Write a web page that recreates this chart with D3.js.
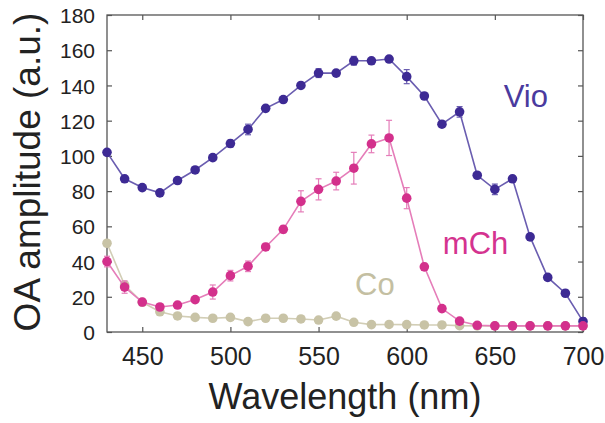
<!DOCTYPE html>
<html><head><meta charset="utf-8">
<script src="https://cdn.jsdelivr.net/npm/d3@7"></script>
<style>
body{margin:0;background:#fff;}
svg{display:block;font-family:"Liberation Sans",Arial,Helvetica,sans-serif;}
</style></head>
<body>
<svg id="chart" width="605" height="423"></svg>
<script>
const wavelengths = d3.range(430, 701, 10);
const vio = [102,87,82,79,86,92,99,107,115,127,132,140,147,147,154,154,155,145,134,118,125,89,81,87,54,31,22,6];
const vioErr = [0,1.5,1.5,1.5,1.5,1.5,1.5,2,3,1.5,1.5,1.5,2.5,1.5,2.5,1.5,1.5,4,1.5,1.5,3,1.5,3,1.5,1.5,1.5,1.5,2];
const mch = [40,25.5,17,14.2,15.3,18.4,22.7,32,37.3,48.3,58.3,74.2,81,85.7,93,106.8,110.2,76,37,13.3,6.2,3.8,3.5,3.5,3.5,3.5,3.5,3.5];
const mchErr = [3,3.5,2,1.5,1.5,1.5,4,3,3,2,2,6,6,5,9,5,10,6,2,1.5,1,0.5,0.5,0.5,0.5,0.5,0.5,1];
const co = [50.4,26.7,16.9,11.5,9.1,8.3,7.8,8.3,5.9,7.8,7.8,7.4,6.8,9,5.5,4.2,4.3,4.2,4,4,3.6,3.5,3.5,3.5,3.5,3.5,3.5,3.5];
const coErr = co.map(() => 0);
const xTicks = [450,500,550,600,650,700];
const yTicks = [0,20,40,60,80,100,120,140,160,180];
const seriesNames = ["Vio","mCh","Co"];
const labelPos = [[655,128],[620.5,44.3],[570.7,21]];

const series = [
  {name:"Co", values:co, err:coErr, line:"#d2ceb6", dot:"#c8c3a6"},
  {name:"Vio", values:vio, err:vioErr, line:"#6a5db0", dot:"#3d2a94"},
  {name:"mCh", values:mch, err:mchErr, line:"#e57db9", dot:"#d3308c"}
];

const svg = d3.select("#chart");
const x = d3.scaleLinear().domain([430,700]).range([107,583]);
const y = d3.scaleLinear().domain([0,180]).range([332,15]);

svg.append("rect").attr("x",107).attr("y",15).attr("width",476).attr("height",317)
  .attr("fill","none").attr("stroke","#555").attr("stroke-width",1.3);

const tickLen = 5;
const ax = svg.append("g").attr("transform","translate(0,332)")
  .call(d3.axisBottom(x).tickValues(xTicks).tickSize(-tickLen).tickPadding(15).tickFormat(d3.format("d")));
const axT = svg.append("g").attr("transform","translate(0,15)")
  .call(d3.axisTop(x).tickValues(xTicks).tickSize(-tickLen).tickFormat(""));
const ay = svg.append("g").attr("transform","translate(107,0)")
  .call(d3.axisLeft(y).tickValues(yTicks).tickSize(-tickLen).tickPadding(12));
const ayR = svg.append("g").attr("transform","translate(583,0)")
  .call(d3.axisRight(y).tickValues(yTicks).tickSize(-tickLen).tickFormat(""));
[ax,axT,ay,ayR].forEach(g=>{
  g.select(".domain").remove();
  g.selectAll(".tick line").attr("stroke","#555").attr("stroke-width",1.2);
  g.selectAll("text").attr("fill","#222").style("font-family",'"Liberation Sans",Arial,sans-serif');
});
ax.selectAll("text").attr("font-size",25);
ay.selectAll("text").attr("font-size",21).attr("dy","0.36em");

const line = d3.line().x((d,i)=>x(wavelengths[i])).y(d=>y(d));
series.forEach(s=>{
  const g = svg.append("g");
  g.append("path").datum(s.values).attr("d",line).attr("fill","none")
    .attr("stroke",s.line).attr("stroke-width",1.6);
  s.values.forEach((v,i)=>{
    const e = s.err[i];
    if(e>0.8){
      const cx = x(wavelengths[i]);
      g.append("line").attr("x1",cx).attr("x2",cx).attr("y1",y(v-e)).attr("y2",y(v+e)).attr("stroke",s.line).attr("stroke-width",1.2);
      g.append("line").attr("x1",cx-3).attr("x2",cx+3).attr("y1",y(v-e)).attr("y2",y(v-e)).attr("stroke",s.line).attr("stroke-width",1.2);
      g.append("line").attr("x1",cx-3).attr("x2",cx+3).attr("y1",y(v+e)).attr("y2",y(v+e)).attr("stroke",s.line).attr("stroke-width",1.2);
    }
  });
  g.selectAll("circle").data(s.values).join("circle")
    .attr("cx",(d,i)=>x(wavelengths[i])).attr("cy",d=>y(d)).attr("r",4.8)
    .attr("fill",s.dot);
});

const labelColors = {"Vio":"#4a3a9e","mCh":"#d4338f","Co":"#c4bfa2"};
seriesNames.forEach((n,i)=>{
  svg.append("text").attr("x",x(labelPos[i][0])).attr("y",y(labelPos[i][1]))
    .attr("font-size",31).attr("fill",labelColors[n]).text(n);
});

svg.append("text").attr("x",345).attr("y",409).attr("text-anchor","middle")
  .attr("font-size",36).attr("fill","#222").text("Wavelength (nm)");
svg.append("text").attr("transform","translate(40,172) rotate(-90)").attr("text-anchor","middle")
  .attr("font-size",37).attr("fill","#222").text("OA amplitude (a.u.)");
</script>
</body></html>
